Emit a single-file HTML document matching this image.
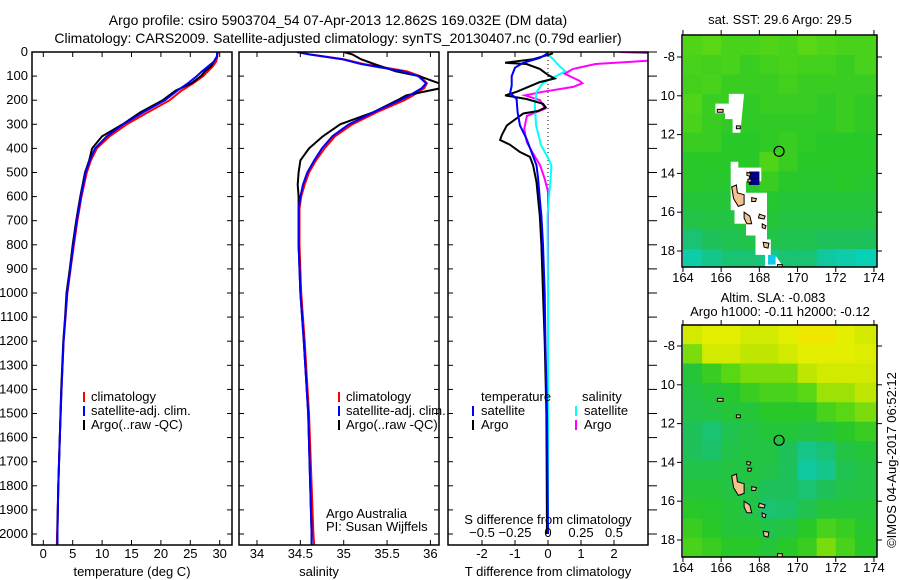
<!DOCTYPE html>
<html><head><meta charset="utf-8"><style>
html,body{margin:0;padding:0;background:#fff;}
svg{display:block;font-family:"Liberation Sans",sans-serif;}
text{font-size:13px;fill:#000;}
text.ttl{font-size:14px;}
</style></head><body>
<svg id="fig" width="900" height="580" viewBox="0 0 900 580" xmlns="http://www.w3.org/2000/svg">
<defs>
<clipPath id="c1"><rect x="32" y="52" width="200" height="493"/></clipPath>
<clipPath id="c2"><rect x="239" y="52" width="200" height="493"/></clipPath>
<clipPath id="c3"><rect x="448" y="52" width="200" height="493"/></clipPath>
<clipPath id="m1"><rect x="682" y="35" width="195" height="232"/></clipPath>
<clipPath id="m2"><rect x="682" y="325" width="195" height="232"/></clipPath>
</defs>
<text class="ttl" x="338" y="25" text-anchor="middle">Argo profile: csiro 5903704_54 07-Apr-2013 12.862S 169.032E (DM data)</text>
<text class="ttl" x="338" y="43" text-anchor="middle">Climatology: CARS2009. Satellite-adjusted climatology: synTS_20130407.nc (0.79d earlier)</text>
<text x="780" y="24" text-anchor="middle">sat. SST: 29.6 Argo: 29.5</text>
<text x="773" y="302" text-anchor="middle">Altim. SLA: -0.083</text>
<text x="780" y="316" text-anchor="middle">Argo h1000: -0.11 h2000: -0.12</text>
<text transform="translate(896,460) rotate(-90)" text-anchor="middle">©IMOS 04-Aug-2017 06:52:12</text>
<g id="g"></g>
</svg>
<script>
// ---------- data ----------
const tDepth = [0,20,40,60,80,100,130,160,200,250,300,350,400,450,500,600,700,800,900,1000,1100,1200,1400,1600,1800,2000,2050];
const tClim  = [29.6,29.6,29.4,28.8,28.0,27.2,25.5,23.5,21.5,17.8,14.2,11.3,9.1,8.1,7.4,6.5,5.8,5.2,4.65,4.1,3.8,3.45,3.1,2.8,2.55,2.35,2.3];
const tSat   = [29.6,29.5,29.0,28.0,27.0,26.1,24.6,22.8,20.7,17.0,13.6,10.8,8.8,7.9,7.2,6.4,5.7,5.1,4.6,4.05,3.75,3.45,3.1,2.8,2.55,2.4,2.4];
const tArgo  = [29.7,29.5,29.0,28.5,27.5,26.8,25.2,22.5,20.3,16.5,13.5,10.0,8.3,7.8,7.1,6.3,5.6,5.0,4.5,3.95,3.7,3.4,3.05,2.8,2.55,2.4,2.4];
const sDepth = [0,10,30,50,80,100,130,150,180,200,250,300,350,400,450,500,550,600,650,800,1000,1200,1500,2000,2050];
const sClim  = [34.46,34.61,35.0,35.23,35.73,35.88,35.96,35.93,35.8,35.7,35.38,35.1,34.9,34.78,34.68,34.6,34.55,34.51,34.49,34.49,34.51,34.55,34.6,34.65,34.66];
const sSat   = [34.46,34.6,34.98,35.2,35.68,35.86,35.95,35.9,35.76,35.65,35.34,35.06,34.87,34.75,34.66,34.58,34.53,34.5,34.48,34.48,34.5,34.54,34.59,34.63,34.63];
const sArgo  = [35.0,35.1,35.2,35.35,35.6,35.87,36.1,36.12,35.72,35.62,35.34,34.96,34.76,34.6,34.5,34.48,34.47,34.48,34.48,34.48,34.5,34.54,34.59,34.63,34.63];
const dtSatDepth = [5,25,45,65,100,140,170,195,250,305,360,415,470,525,610,680,800,1000,1200,1500,2000];
const dtSat      = [0,-0.25,-0.75,-1.0,-1.1,-1.1,-1.15,-0.95,-0.92,-0.85,-0.65,-0.5,-0.35,-0.3,-0.25,-0.2,-0.15,-0.1,-0.08,-0.03,0];
const dtArgoDepth = [5,10,30,45,50,70,95,110,125,165,180,195,215,230,245,255,305,345,365,385,415,435,470,540,680,800,1000,1200,1500,2000];
const dtArgo      = [0.15,0.05,-0.45,-1.3,-0.65,-0.25,0,0.2,-0.25,-0.95,-1.3,-0.65,-0.15,-0.07,-0.3,-0.75,-1.25,-1.4,-1.45,-1.15,-0.85,-0.55,-0.45,-0.35,-0.25,-0.2,-0.15,-0.1,-0.05,-0.03];
const dsSatDepth = [0,30,55,80,100,130,165,220,305,385,440,470,525,610,680,1000,2000];
const dsSat      = [-0.02,0.04,0.08,0.13,0.06,-0.04,-0.086,-0.1,-0.09,-0.054,0,0.026,0.02,0.006,-0.004,0,0];
const dsArgoDepth = [0,5,35,50,70,90,120,130,145,165,180,200,220,235,265,320,375,415,470,525,580,680,1000,2000];
const dsArgo      = [0.54,0.8,0.8,0.36,0.19,0.126,0.24,0.26,0.19,-0.04,-0.174,-0.06,-0.04,-0.02,-0.16,-0.18,-0.16,-0.12,-0.06,-0.026,0,0,0,0];
const depthTicks = [0,100,200,300,400,500,600,700,800,900,1000,1100,1200,1300,1400,1500,1600,1700,1800,1900,2000];
const tTicks = [0,5,10,15,20,25,30];
const sTicks = [34,34.5,35,35.5,36];
const dtTicks = [-2,-1,0,1,2];
const dsTicks = [-0.5,-0.25,0,0.25,0.5];
const lonTicks = [164,166,168,170,172,174];
const latTicks = [-8,-10,-12,-14,-16,-18];
const sstGrid = [
[.62,.65,.6,.6,.62,.6,.65,.62,.6,.6,.6],
[.6,.58,.6,.55,.58,.6,.58,.58,.55,.6,.6],
[.58,.6,.55,.55,.55,.58,.55,.55,.55,.55,.55],
[.62,.55,.55,.52,.55,.55,.55,.52,.55,.52,.52],
[.6,.55,.52,.52,.52,.52,.52,.52,.55,.52,.52],
[.55,.55,.5,.5,.52,.55,.52,.5,.5,.5,.5],
[.5,.5,.5,.5,.62,.55,.5,.5,.5,.5,.5],
[.5,.48,.48,.5,.55,.5,.48,.48,.5,.48,.48],
[.45,.45,.45,.48,.48,.45,.45,.45,.45,.45,.45],
[.4,.42,.42,.45,.45,.42,.42,.42,.42,.42,.42],
[.3,.35,.38,.4,.4,.38,.38,.35,.35,.35,.35],
[.15,.25,.3,.3,.25,.3,.3,.2,.15,.1,.1]];
const slaGrid = [
[.85,.9,.9,.85,.85,.9,.95,.95,.9,.85,.85],
[.7,.85,.85,.8,.8,.85,.9,.9,.9,.88,.88],
[.45,.55,.65,.7,.7,.7,.8,.85,.85,.85,.85],
[.42,.45,.48,.55,.6,.6,.65,.75,.75,.8,.8],
[.4,.42,.45,.45,.5,.5,.5,.6,.65,.7,.7],
[.35,.3,.38,.42,.45,.45,.42,.45,.5,.55,.55],
[.35,.32,.4,.42,.42,.35,.25,.3,.42,.45,.45],
[.4,.4,.42,.42,.4,.35,.2,.25,.38,.42,.42],
[.45,.45,.42,.4,.35,.35,.3,.35,.4,.42,.42],
[.5,.48,.45,.4,.3,.32,.38,.45,.45,.45,.45],
[.55,.5,.45,.45,.4,.42,.5,.6,.55,.48,.48],
[.6,.55,.5,.5,.45,.5,.55,.7,.6,.5,.5]];
const islands = [
[[166.55,-14.7],[166.8,-14.6],[166.85,-15.0],[167.2,-15.1],[167.2,-15.6],[166.9,-15.7],[166.65,-15.3]],
[[167.2,-16.0],[167.5,-16.2],[167.6,-16.6],[167.35,-16.6],[167.2,-16.3]],
[[168.2,-17.55],[168.5,-17.6],[168.45,-17.85],[168.25,-17.8]],
[[168.95,-18.7],[169.2,-18.7],[169.2,-18.9],[168.95,-18.9]],
[[167.6,-15.25],[167.85,-15.3],[167.8,-15.45],[167.6,-15.45]],
[[168.0,-16.1],[168.3,-16.2],[168.25,-16.35],[167.95,-16.3]],
[[168.15,-16.6],[168.35,-16.7],[168.3,-16.85],[168.15,-16.8]],
[[165.8,-10.7],[166.1,-10.7],[166.1,-10.85],[165.8,-10.85]],
[[166.8,-11.55],[167.0,-11.55],[167.0,-11.7],[166.8,-11.7]],
[[167.35,-13.95],[167.55,-14.0],[167.5,-14.15],[167.35,-14.1]],
[[167.4,-14.3],[167.6,-14.3],[167.55,-14.45],[167.4,-14.45]]];
const maskA = [[166.5,-13.4],[166.9,-13.4],[166.9,-13.7],[168.1,-13.7],[168.1,-14.4],[167.3,-14.4],[167.3,-15.0],[168.4,-15.0],[168.4,-17.4],[168.6,-17.4],[168.6,-18.3],[168.9,-18.3],[169.3,-18.9],[168.3,-18.9],[168.3,-18.2],[167.8,-18.2],[167.8,-17.2],[167.3,-17.2],[167.3,-16.6],[166.7,-16.6],[166.7,-15.9],[166.5,-15.9]];
const maskB = [[165.7,-10.4],[166.4,-10.4],[166.4,-9.9],[167.2,-9.9],[167.0,-11.9],[166.6,-11.9],[166.6,-11.2],[166.2,-11.2],[166.2,-10.9],[165.7,-10.9]];
const floatPos = [169.032,-12.862];

// ---------- helpers ----------
const NS='http://www.w3.org/2000/svg';
const root=document.getElementById('g');
function el(tag,attrs,parent){const e=document.createElementNS(NS,tag);for(const k in attrs)e.setAttribute(k,attrs[k]);(parent||root).appendChild(e);return e;}
const yD=d=>52+d*0.241;
const xT=t=>43.3+t*5.88;
const xS=s=>257+(s-34)*86.7;
const xDT=v=>548+v*33;
const xDS=v=>548+v*132;
const lonX=lo=>682+(lo-163.95)*19.1;
const latY1=la=>57+(-8-la)*19.4;
const latY2=la=>346+(-8-la)*19.4;

function line(xs,ds,fx,color,clip,name,w){
  const pts=xs.map((v,i)=>fx(v).toFixed(1)+','+yD(ds[i]).toFixed(1)).join(' ');
  const p=el('polyline',{points:pts,fill:'none',stroke:color,'stroke-width':w||2,'clip-path':'url(#'+clip+')','stroke-linejoin':'miter'});
  
  
}
function frame(x,y,w,h,name){
  const r=el('rect',{x:x,y:y,width:w,height:h,fill:'none',stroke:'#000','stroke-width':1.5});
  
  
}
function txt(x,y,s,anchor,name){
  const t=el('text',{x:x,y:y,'text-anchor':anchor||'start'});t.textContent=s;
  
  
  return t;
}
function depthAxis(x0,w,labels,outRight){
  depthTicks.forEach(d=>{
    const y=yD(d);
    el('line',{x1:x0,y1:y,x2:x0+5,y2:y,stroke:'#000'});
    if(outRight) el('line',{x1:x0+w,y1:y,x2:x0+w+9,y2:y,stroke:'#000'});
    else el('line',{x1:x0+w-5,y1:y,x2:x0+w,y2:y,stroke:'#000'});
    if(labels) txt(x0-4,y+4,String(d),'end','depth-tick-label');
  });
}
function xTicks(vals,fx,top,bot,ly,name){
  vals.forEach(v=>{const x=fx(v);
    el('line',{x1:x,y1:top,x2:x,y2:top+5,stroke:'#000'});
    el('line',{x1:x,y1:bot-5,x2:x,y2:bot,stroke:'#000'});
    if(ly) txt(x,ly,String(v),'middle',name);
  });
}
function legendMark(x,y,color,name){
  const l=el('line',{x1:x,y1:y-9,x2:x,y2:y+1,stroke:color,'stroke-width':2});
  
  
}

// ---------- panel 1: temperature ----------
line(tClim,tDepth,xT,'#ff0000','c1','temp-climatology-line');
line(tArgo,tDepth,xT,'#000000','c1','temp-argo-line');
line(tSat,tDepth,xT,'#0000ff','c1','temp-satellite-line');
frame(32,52,200,493,'temperature-axes');
depthAxis(32,200,true,false);
xTicks(tTicks,xT,52,545,558,'temp-tick-label');
txt(132,576,'temperature (deg C)','middle','temp-axis-title');
legendMark(84,401,'#ff0000','legend-climatology-mark');txt(91,401,'climatology','start','legend-climatology');
legendMark(84,415,'#0000ff','legend-satellite-mark');txt(91,415,'satellite-adj. clim.','start','legend-satellite');
legendMark(84,429,'#000000','legend-argo-mark');txt(91,429,'Argo(..raw -QC)','start','legend-argo');

// ---------- panel 2: salinity ----------
line(sClim,sDepth,xS,'#ff0000','c2','sal-climatology-line');
line(sArgo,sDepth,xS,'#000000','c2','sal-argo-line');
line(sSat,sDepth,xS,'#0000ff','c2','sal-satellite-line');
frame(239,52,200,493,'salinity-axes');
depthAxis(239,200,false,false);
xTicks(sTicks,xS,52,545,558,'sal-tick-label');
txt(319,576,'salinity','middle','sal-axis-title');
legendMark(339,401,'#ff0000','legend2-climatology-mark');txt(346,401,'climatology','start','legend2-climatology');
legendMark(339,415,'#0000ff','legend2-satellite-mark');txt(346,415,'satellite-adj. clim.','start','legend2-satellite');
legendMark(339,429,'#000000','legend2-argo-mark');txt(346,429,'Argo(..raw -QC)','start','legend2-argo');
txt(326,518,'Argo Australia','start','credit-argo-australia');
txt(326,531,'PI: Susan Wijffels','start','credit-pi');

// ---------- panel 3: differences ----------
el('line',{x1:548,y1:52,x2:548,y2:545,stroke:'#000','stroke-dasharray':'1,3'});
line(dsArgo,dsArgoDepth,xDS,'#ff00ff','c3','sal-diff-argo-line');
line(dsSat,dsSatDepth,xDS,'#00ffff','c3','sal-diff-satellite-line');
line(dtArgo,dtArgoDepth,xDT,'#000000','c3','temp-diff-argo-line');
line(dtSat,dtSatDepth,xDT,'#0000ff','c3','temp-diff-satellite-line');
frame(448,52,200,493,'difference-axes');
depthAxis(448,200,false,true);
xTicks(dtTicks,xDT,52,545,558,'tdiff-tick-label');
dsTicks.forEach(v=>txt(xDS(v),537,String(v).replace('-','\u2212'),'middle','sdiff-tick-label'));
txt(548,524,'S difference from climatology','middle','sdiff-axis-title');
txt(548,576,'T difference from climatology','middle','tdiff-axis-title');
txt(481,401,'temperature','start','legend3-temperature-header');
legendMark(473,415,'#0000ff','legend3-tsat-mark');txt(481,415,'satellite','start','legend3-tsat');
legendMark(473,429,'#000000','legend3-targo-mark');txt(481,429,'Argo','start','legend3-targo');
txt(582,401,'salinity','start','legend3-salinity-header');
legendMark(576,415,'#00ffff','legend3-ssat-mark');txt(584,415,'satellite','start','legend3-ssat');
legendMark(576,429,'#ff00ff','legend3-sargo-mark');txt(584,429,'Argo','start','legend3-sargo');

// ---------- maps ----------
const stops=[[0,[0,216,200]],[0.2,[16,200,160]],[0.35,[30,192,90]],[0.5,[40,200,40]],[0.65,[90,215,20]],[0.8,[190,230,0]],[0.92,[235,240,0]],[1,[248,216,0]]];
function cmap(v){for(let i=1;i<stops.length;i++){if(v<=stops[i][0]){const a=stops[i-1],b=stops[i],f=(v-a[0])/(b[0]-a[0]);return 'rgb('+a[1].map((c,k)=>Math.round(c+(b[1][k]-c)*f)).join(',')+')';}}return 'rgb(248,216,0)';}
function poly(pts,fy,attrs,name,clip){
  const p=el('polygon',Object.assign({points:pts.map(q=>lonX(q[0]).toFixed(1)+','+fy(q[1]).toFixed(1)).join(' '),'clip-path':'url(#'+clip+')'},attrs));
  
  
}
function drawMap(grid,fy,clip,name,top,bottom,masks){
  grid.forEach((row,r)=>row.forEach((v,c)=>{
    const lo=164+c, la=-6.9-r;
    const x=lonX(lo), y=fy(la);
    const cell=el('rect',{x:x.toFixed(1),y:y.toFixed(1),width:19.6,height:19.9,fill:cmap(v),'clip-path':'url(#'+clip+')'});
    
    
  }));
  if(masks){
    poly(maskA,fy,{fill:'#fff'},name+'-nodata-mask',clip);
    poly(maskB,fy,{fill:'#fff'},name+'-nodata-mask',clip);
    poly([[167.45,-13.9],[168.0,-13.9],[168.0,-14.6],[167.45,-14.6]],fy,{fill:'#000080'},name+'-cold-cell',clip);
    poly([[168.45,-18.2],[168.85,-18.2],[168.85,-18.7],[168.45,-18.7]],fy,{fill:'#10c8e8'},name+'-cyan-cell',clip);
  }
  islands.forEach(isl=>poly(isl,fy,{fill:'#f5c08e',stroke:'#000','stroke-width':1},name+'-island',clip));
  const fc=el('circle',{cx:lonX(floatPos[0]),cy:fy(floatPos[1]),r:5,fill:'none',stroke:'#000','stroke-width':1.2});
  
  
  frame(682,top,195,bottom-top,name+'-axes');
  lonTicks.forEach(lo=>{const x=lonX(lo);
    el('line',{x1:x,y1:top-5,x2:x,y2:top,stroke:'#000'});
    el('line',{x1:x,y1:bottom,x2:x,y2:bottom+5,stroke:'#000'});
    txt(x,bottom+15,String(lo),'middle',name+'-lon-label');});
  latTicks.forEach(la=>{const y=fy(la);
    el('line',{x1:677,y1:y,x2:682,y2:y,stroke:'#000'});
    el('line',{x1:877,y1:y,x2:882,y2:y,stroke:'#000'});
    txt(675,y+4,la===-8?'-8':String(-la),'end',name+'-lat-label');});
}
drawMap(sstGrid,latY1,'m1','sst-map',35,267,true);
drawMap(slaGrid,latY2,'m2','sla-map',325,557,false);
</script>
</body></html>
